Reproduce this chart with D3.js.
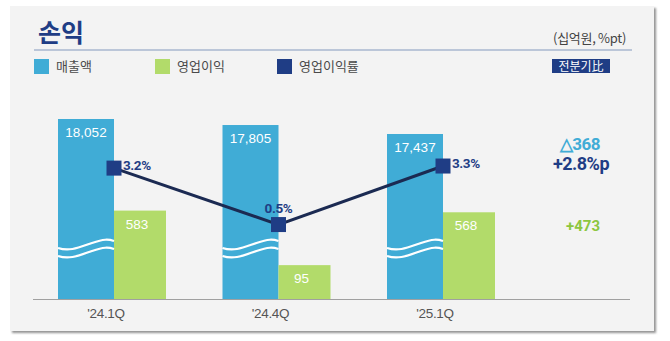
<!DOCTYPE html>
<html><head><meta charset="utf-8">
<script src="https://cdn.jsdelivr.net/npm/d3@7"></script>
<style>
html,body{margin:0;padding:0;background:#fff;}
svg{display:block;}
</style></head>
<body>
<svg id="c" width="670" height="341"></svg>
<script>
const categories = ["'24.1Q", "'24.4Q", "'25.1Q"];
const revenue = [18052, 17805, 17437];
const opProfit = [583, 95, 568];
const opMargin = [3.2, 0.5, 3.3];
const legendLabels = ["매출액", "영업이익", "영업이익률"];
const qoqRevenue = "△368";
const qoqMargin = "+2.8%p";
const qoqProfit = "+473";

const C = {blue:"#40acd6", green:"#b2db6a", navy:"#1f3d85", line:"#1b2a52", panel:"#f3f3f3"};
const KR = "'Noto Sans CJK KR', 'Noto Sans', sans-serif";
const NUM = "'Liberation Sans', Roboto, sans-serif";
const NUMB = "Roboto, 'Liberation Sans', sans-serif";

const svg = d3.select("#c");
const defs = svg.append("defs");
const f = defs.append("filter").attr("id","sh").attr("x","-5%").attr("y","-5%").attr("width","110%").attr("height","110%");
f.append("feDropShadow").attr("dx",2).attr("dy",2).attr("stdDeviation",1.2).attr("flood-color","#777").attr("flood-opacity",0.8);

svg.append("rect").attr("x",10).attr("y",6).attr("width",644).attr("height",325)
  .attr("fill",C.panel).attr("filter","url(#sh)");

// Title & units
svg.append("text").attr("x",38).attr("y",42).text("손익")
  .attr("font-family",KR).attr("font-weight",700).attr("font-size",25).attr("fill",C.navy);
svg.append("text").attr("x",626).attr("y",43).attr("text-anchor","end").text("(십억원, %pt)")
  .attr("font-family",KR).attr("font-size",13).attr("fill","#444").attr("letter-spacing",-0.3);
svg.append("line").attr("x1",34).attr("x2",632).attr("y1",50).attr("y2",50)
  .attr("stroke","#a9b7cf").attr("stroke-width",1.5);

// Legend
const legX = [34, 155, 277];
const legC = [C.blue, C.green, C.navy];
legendLabels.forEach((t,i)=>{
  svg.append("rect").attr("x",legX[i]).attr("y",59).attr("width",15).attr("height",15).attr("fill",legC[i]);
  svg.append("text").attr("x",legX[i]+22).attr("y",71).text(t)
    .attr("font-family",KR).attr("font-size",13).attr("fill","#4a4a4a");
});
svg.append("rect").attr("x",552).attr("y",59).attr("width",58).attr("height",14).attr("fill",C.navy);
svg.append("text").attr("x",581).attr("y",70.5).attr("text-anchor","middle").text("전분기比")
  .attr("font-family",KR).attr("font-size",12).attr("fill","#fff");

// Scales
const x = d3.scalePoint().domain(categories).range([114, 443]);
const base = 299;
const yRev = d3.scaleLinear().domain([10670, 18052]).range([base, 119]);
const yOp = d3.scaleLinear().domain([-208, 583]).range([base, 210.6]);
const yM = d3.scaleLinear().domain([0, 4]).range([235, 151.4]);
const bw = 56, gw = 52;

// Bars
const g = svg.append("g");
categories.forEach((c,i)=>{
  const cx = x(c);
  g.append("rect").attr("x",cx-bw).attr("y",yRev(revenue[i])).attr("width",bw).attr("height",base-yRev(revenue[i])).attr("fill",C.blue);
  g.append("rect").attr("x",cx).attr("y",yOp(opProfit[i])).attr("width",gw).attr("height",base-yOp(opProfit[i])).attr("fill",C.green);
  // break waves
  [0,8].forEach(o=>{
    const x0 = cx-bw, x1 = cx, y0 = 248+o;
    g.append("path").attr("d",`M${x0},${y0} C${x0+12},${y0+4} ${x0+22},${y0-1} ${x0+34},${y0-5} S${x1-6},${y0-9} ${x1},${y0-7}`)
      .attr("fill","none").attr("stroke","#fff").attr("stroke-width",2.2);
  });
  g.append("text").attr("x",cx-bw/2).attr("y",yRev(revenue[i])+18).attr("text-anchor","middle")
    .text(d3.format(",")(revenue[i])).attr("font-family",NUM).attr("font-size",13.5).attr("fill","#fff");
  g.append("text").attr("x",cx+gw/2-3).attr("y",yOp(opProfit[i])+18).attr("text-anchor","middle")
    .text(d3.format(",")(opProfit[i])).attr("font-family",NUM).attr("font-size",13.5).attr("fill","#fff");
  g.append("text").attr("x",cx-8).attr("y",318).attr("text-anchor","middle").text(c)
    .attr("font-family",NUM).attr("font-size",13.5).attr("fill","#555").attr("letter-spacing",-0.3);
});

// Axis line
svg.append("line").attr("x1",33).attr("x2",630).attr("y1",base+0.5).attr("y2",base+0.5)
  .attr("stroke","#a0a0a0").attr("stroke-width",1.2);

// Line
const lineGen = d3.line().x((d,i)=>x(categories[i])).y(d=>yM(d));
svg.append("path").attr("d",lineGen(opMargin)).attr("fill","none").attr("stroke",C.line).attr("stroke-width",3);
opMargin.forEach((v,i)=>{
  const cx = x(categories[i]), cy = yM(v);
  svg.append("rect").attr("x",cx-7.5).attr("y",cy-7.5).attr("width",15).attr("height",15).attr("fill",C.navy);
  const t = svg.append("text").text(v.toFixed(1)+"%").attr("font-family",NUMB).attr("font-weight",700)
    .attr("font-size",13.5).attr("fill",C.navy).attr("letter-spacing",-0.4);
  if (i===1) t.attr("x",cx).attr("y",cy-12).attr("text-anchor","middle");
  else t.attr("x",cx+9).attr("y",cy+2);
});

// QoQ annotations
svg.append("text").attr("x",580).attr("y",150).attr("text-anchor","middle").text(qoqRevenue)
  .attr("font-family",NUMB).attr("font-weight",700).attr("font-size",17).attr("fill",C.blue).attr("letter-spacing",-0.5);
svg.append("text").attr("x",581).attr("y",170).attr("text-anchor","middle").text(qoqMargin)
  .attr("font-family",NUMB).attr("font-weight",700).attr("font-size",18).attr("fill",C.navy).attr("letter-spacing",-0.5);
svg.append("text").attr("x",583).attr("y",231).attr("text-anchor","middle").text(qoqProfit)
  .attr("font-family",NUMB).attr("font-weight",700).attr("font-size",15).attr("fill","#8cc63f");
</script>
</body></html>
